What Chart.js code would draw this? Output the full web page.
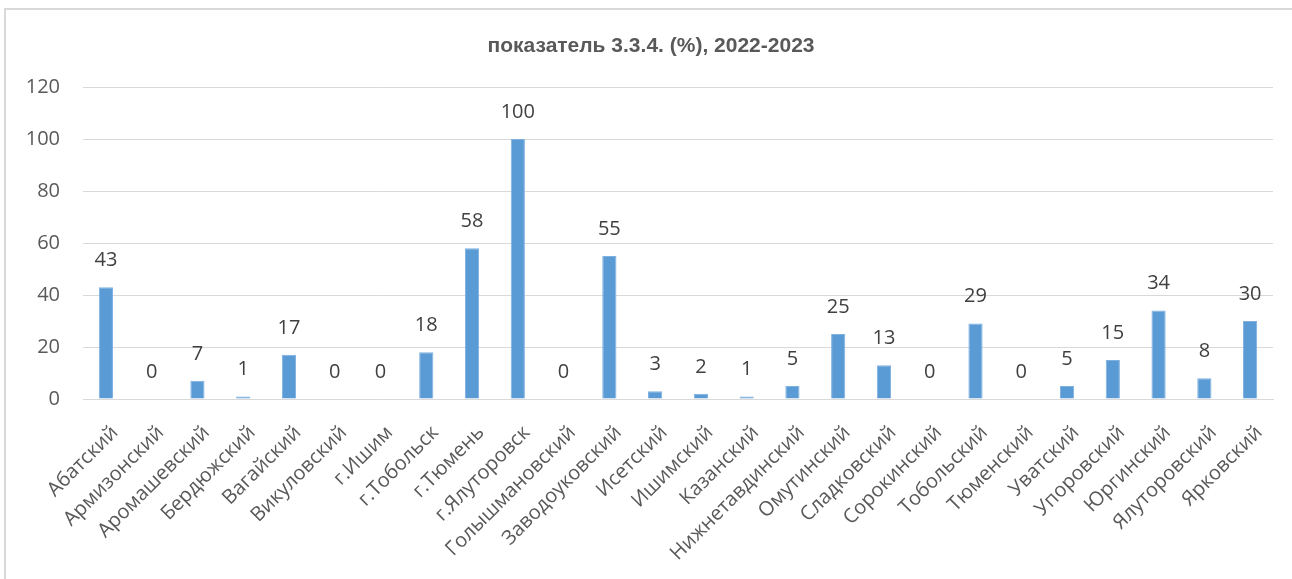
<!DOCTYPE html>
<html>
<head>
<meta charset="utf-8">
<script src="https://cdn.jsdelivr.net/npm/chart.js@4.4.1/dist/chart.umd.min.js"></script>
<style>
  html, body { margin: 0; padding: 0; background: #fff; }
  #wrap { position: relative; width: 1292px; height: 579px; overflow: hidden; }
  #frame { position: absolute; left: 4px; top: 8px; width: 1300px; height: 600px; border-left: 2px solid #d9d9d9; border-top: 2px solid #d9d9d9; box-sizing: border-box; }
  canvas { position: absolute; left: 0; top: 0; }
</style>
</head>
<body>
<div id="wrap">
  <div id="frame"></div>
  <canvas id="c" width="1292" height="579"></canvas>
</div>
<script>
const titleText = "показатель 3.3.4. (%), 2022-2023";
const categories = ["Абатский","Армизонский","Аромашевский","Бердюжский","Вагайский","Викуловский","г.Ишим","г.Тобольск","г.Тюмень","г.Ялуторовск","Голышмановский","Заводоуковский","Исетский","Ишимский","Казанский","Нижнетавдинский","Омутинский","Сладковский","Сорокинский","Тобольский","Тюменский","Уватский","Упоровский","Юргинский","Ялуторовский","Ярковский"];
const values = [43,0,7,1,17,0,0,18,58,100,0,55,3,2,1,5,25,13,0,29,0,5,15,34,8,30];
const yTicks = [0,20,40,60,80,100,120];

const AREA = { left: 83, right: 1273, top: 87, bottom: 399 };
const FONT = '"Open Sans", "Noto Sans", sans-serif';

const labelPlugin = {
  id: 'valueLabels',
  afterDatasetsDraw(chart) {
    const ctx = chart.ctx;
    const meta = chart.getDatasetMeta(0);
    ctx.save();
    ctx.font = '20px ' + FONT;
    ctx.fillStyle = '#404040';
    ctx.textAlign = 'center';
    ctx.textBaseline = 'middle';
    meta.data.forEach((bar, i) => {
      ctx.fillText(String(values[i]), bar.x, bar.y - 27);
    });
    ctx.restore();
  }
};

const titlePlugin = {
  id: 'customTitle',
  afterDraw(chart) {
    const ctx = chart.ctx;
    ctx.save();
    ctx.font = 'bold 21px "Liberation Sans"';
    ctx.fillStyle = '#595959';
    ctx.textAlign = 'center';
    ctx.textBaseline = 'middle';
    ctx.fillText(titleText, 651, 46);
    ctx.restore();
  }
};

function build() {
  new Chart(document.getElementById('c'), {
    type: 'bar',
    data: {
      labels: categories,
      datasets: [{
        data: values,
        backgroundColor: '#5B9BD5',
        borderColor: '#7eb0e0',
        borderWidth: 1,
        barPercentage: 0.62,
        categoryPercentage: 0.5
      }]
    },
    options: {
      responsive: false,
      animation: false,
      layout: { padding: { left: 0, right: 1292 - AREA.right, top: AREA.top, bottom: 0 } },
      plugins: { legend: { display: false }, tooltip: { enabled: false }, title: { display: false } },
      scales: {
        x: {
          grid: { display: false, drawTicks: false },
          border: { display: true, color: '#d9d9d9', width: 1 },
          ticks: {
            autoSkip: false,
            maxRotation: 45, minRotation: 45,
            color: '#595959',
            font: { family: FONT, size: 20 },
            padding: 22,
            labelOffset: 9
          },
          afterFit(scale) { scale.height = 579 - AREA.bottom; }
        },
        y: {
          min: 0, max: 120,
          afterBuildTicks(scale) { scale.ticks = yTicks.map(v => ({ value: v })); },
          grid: { color: '#d9d9d9', lineWidth: 1, drawTicks: false },
          border: { display: false },
          ticks: {
            color: '#595959',
            font: { family: FONT, size: 20 },
            padding: 23
          },
          afterFit(scale) { scale.width = AREA.left; }
        }
      }
    },
    plugins: [labelPlugin, titlePlugin]
  });
}

Promise.all([
  document.fonts.load('20px "Open Sans"', 'Абв123'),
  document.fonts.load('bold 21px "Liberation Sans"', 'абв123')
]).then(build, build);
</script>
</body>
</html>
